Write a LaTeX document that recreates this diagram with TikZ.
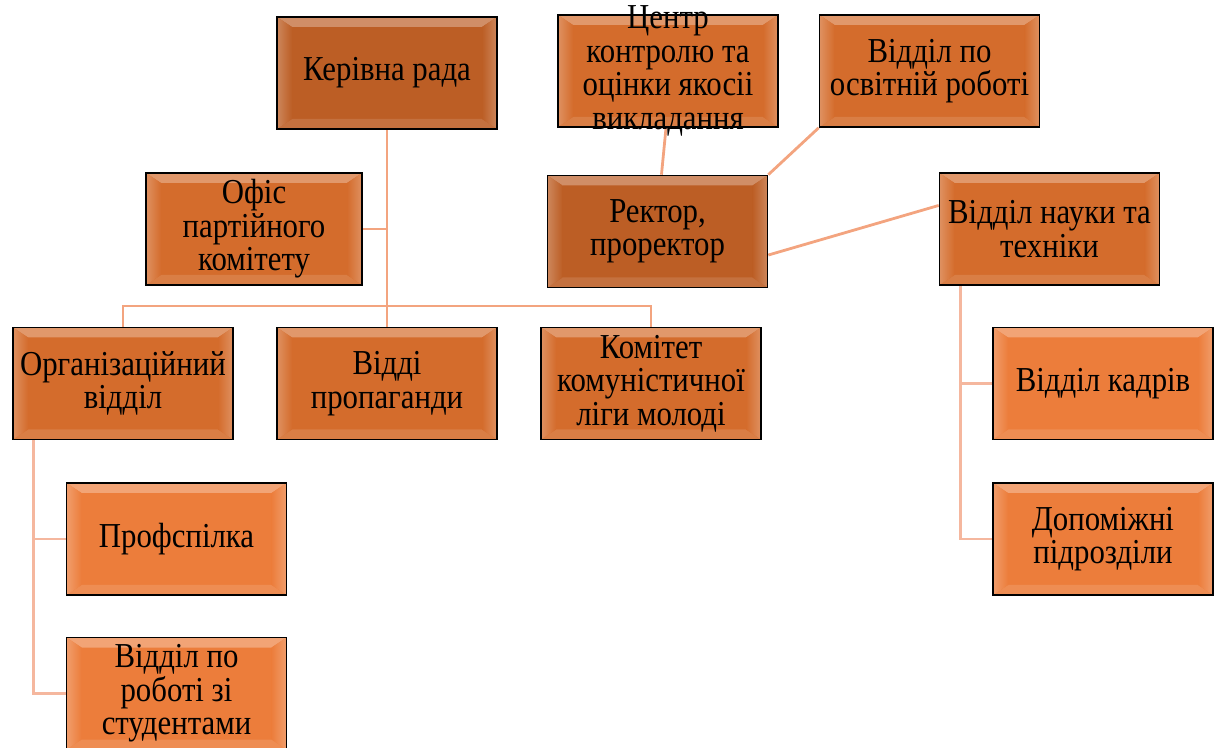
\documentclass[tikz,border=0pt]{standalone}
\usepackage{fontspec}
\setmainfont{Liberation Serif}[FakeStretch=0.88]
\usetikzlibrary{calc,backgrounds}
\definecolor{kdark}{HTML}{BC5E25}
\definecolor{kmid}{HTML}{D46C2C}
\definecolor{klight}{HTML}{EC7D3B}
\definecolor{linkhi}{HTML}{F3A47F}
\definecolor{linklo}{HTML}{F5B79E}
\tikzset{
    x=1pt, y=1pt,
    unit/.style ={rectangle, draw=black, line width=1.6pt, fill=#1,
        minimum width=220pt, minimum height=112pt, inner sep=0pt, align=center,
        font=\rmfamily\fontsize{35}{33.5}\selectfont,
        path picture={
            \path (path picture bounding box.south west) coordinate (bl)
                  (path picture bounding box.north east) coordinate (tr);
            \fill[#1!70!white] (bl|-tr) -- (tr) -- ++(-15,-10) -- ($(bl|-tr)+(15,-10)$) -- cycle;
            \fill[#1!88!white] (bl) -- (bl-|tr) -- ++(-15,10) -- ($(bl)+(15,10)$) -- cycle;
            \shade[left color=#1!75!white, middle color=yellow!30!white, right color=#1]
                (bl) -- ($(bl)+(15,10)$) -- ($(bl|-tr)+(15,-10)$) -- (bl|-tr) -- cycle;
            \shade[left color=#1, middle color=yellow!30!white, right color=#1!75!white]
                (bl-|tr) -- (tr) -- ($(tr)+(-15,-10)$) -- ($(bl-|tr)+(-15,10)$) -- cycle;
        }},
    link/.style = {draw=linkhi, line width=2.8pt},
    sublink/.style = {draw=linklo, line width=2.8pt}
}

\begin{document}
\begin{tikzpicture}
    \useasboundingbox (0,0) rectangle (1220,747);

    \node (kerivna) at (387,674) [unit=kdark] {Керівна рада};
    \node (centr) at (668,676) [unit=kmid, inner ysep=-12pt] {Центр\\контролю та\\оцінки якосіі\\викладання};
    \node (osvita) at (929.5,676) [unit=kmid] {Відділ по\\освітній роботі};
    \node (ofis) at (254,518) [unit=kmid, minimum width=216pt] {Офіс\\партійного\\комітету};
    \node (rektor) at (657.5,515.5) [unit=kdark] {Ректор,\\проректор};
    \node (nauka) at (1049.5,518) [unit=kmid] {Відділ науки та\\техніки};
		\node (org) at (123,363.5) [unit=kmid] {Організаційний\\відділ};
		\node (vidd) at (387,363.5) [unit=kmid] {Відді\\пропаганди};
		\node (komitet) at (651,363.5) [unit=kmid] {Комітет\\комуністичної\\ліги молоді};
		\node (kadry) at (1103,363.5) [unit=klight] {Відділ кадрів};
    \node (profsp) at (176.5,208) [unit=klight] {Профспілка};
    \node (dopom) at (1103,208) [unit=klight] {Допоміжні\\підрозділи};
    \node (studenty) at (176.5,53.5) [unit=klight] {Відділ по\\роботі зі\\студентами};

    \coordinate (bus) at (387,441);
    \coordinate (orgleg) at ($(org.south west)+(21,0)$);
    \coordinate (naukaleg) at ($(nauka.south west)+(22,0)$);

    \begin{scope}[on background layer]
    \path[link] (kerivna) edge (vidd);
    \path[link] (ofis) edge (ofis -| kerivna);
    \draw[link] (org) |- (bus) -| (komitet);
    \path[link] (rektor.86) edge (centr.-92);
    \path[link] (rektor.north east) edge (osvita.south west);
    \path[link] (rektor.-12) edge (nauka.168);
    \draw[sublink] (orgleg) |- (studenty);
    \draw[sublink] (orgleg |- profsp) -- (profsp);
    \draw[sublink] (naukaleg) |- (dopom);
    \draw[sublink] (naukaleg |- kadry) -- (kadry);
    \end{scope}
\end{tikzpicture}
\end{document}
